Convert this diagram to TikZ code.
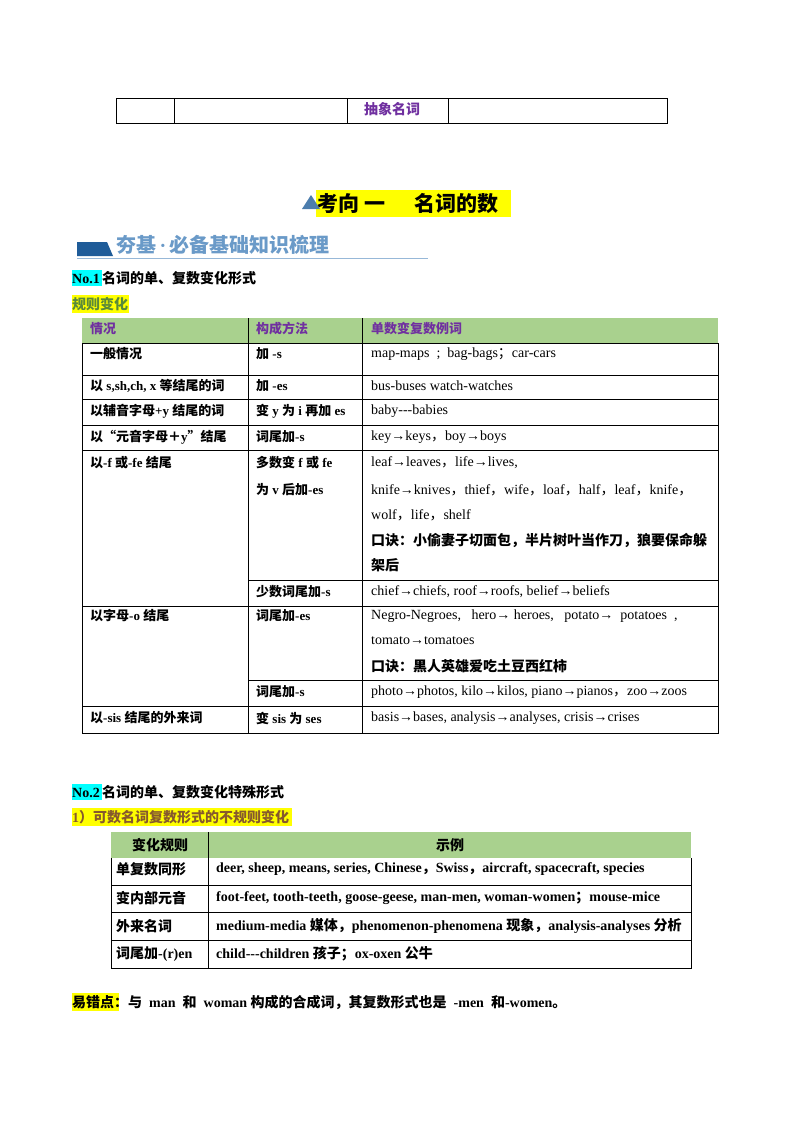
\documentclass[tikz,border=0pt]{standalone}
\usepackage{fontspec}
\setmainfont{Liberation Serif}
\newfontfamily\cjk{Noto Sans CJK SC}
\XeTeXinterchartokenstate=1
\newXeTeXintercharclass\CJKcls
\makeatletter
\def\setcjkrange#1#2{\count@=#1\relax\loop\XeTeXcharclass\count@=\CJKcls\ifnum\count@<#2\advance\count@ by 1\repeat}
\makeatother
\setcjkrange{"4E00}{"9FFF}
\setcjkrange{"3000}{"303F}
\setcjkrange{"FF00}{"FFEF}
\XeTeXcharclass"201C=\CJKcls
\XeTeXcharclass"201D=\CJKcls
\XeTeXinterchartoks 0 \CJKcls={\cjk}
\XeTeXinterchartoks 4095 \CJKcls={\cjk}
\XeTeXinterchartoks \CJKcls 0={\rmfamily}
\XeTeXinterchartoks \CJKcls 4095={\rmfamily}
\definecolor{hdr}{HTML}{A9D18E}
\definecolor{purp}{HTML}{7030A0}
\definecolor{cyanhl}{HTML}{00FFFF}
\definecolor{yel}{HTML}{FFFF00}
\definecolor{bannerblue}{HTML}{1F5C99}
\definecolor{bannertext}{HTML}{6A9AC8}
\definecolor{olive}{HTML}{70AD47}
\tikzset{
  cell/.style={anchor=west,inner sep=0pt,font=\fontsize{14}{16}\selectfont},
  bcell/.style={cell,font=\fontsize{13}{15}\selectfont\bfseries},
  ccell/.style={cell,font=\fontsize{14}{16}\selectfont\bfseries},
  hcell/.style={bcell,text=purp},
  grid/.style={line width=0.8pt,black}
}
\begin{document}
\begin{tikzpicture}[x=1pt,y=-1pt]
\path[use as bounding box,fill=white] (0,0) rectangle (800,1132);
% top table
\draw[grid] (116,98) rectangle (667,123);
\foreach \x in {174,347,448} \draw[grid] (\x,98) -- (\x,123);
\node[hcell,anchor=center,font=\fontsize{14}{16}\selectfont\bfseries] (abs) at (392,109) {抽象名词};
% title
\fill[yel] (316,190) rectangle (511,217);
\fill[bannerblue!80] (302,209) -- (311,195) -- (320,209) -- cycle;
\node[inner sep=0pt,font=\fontsize{21}{24}\selectfont\bfseries,anchor=west] (title) at (317,204) {考向 一\hspace{1.4em}名词的数};
% banner
\fill[bannerblue] (77,242) -- (107,242) -- (113,256) -- (77,256) -- cycle;
\node[inner sep=0pt,font=\fontsize{20}{22}\selectfont\bfseries,text=bannertext,anchor=west] (banner) at (116,245) {夯基\,·\,必备基础知识梳理};
\draw[bannertext!70,line width=0.8pt] (77,258) -- (428,258);
% No.1
\fill[cyanhl] (72,270) rectangle (102,286);
\node[ccell] (no1) at (72,278) {No.1\,名词的单、复数变化形式};
\fill[yel] (72,295) rectangle (129,313);
\node[ccell,text=olive!80!black] (gz) at (72,304) {规则变化};
% main table
\fill[hdr] (82,318) rectangle (718,343);
\draw[grid] (82,343) -- (82,733) -- (718,733) -- (718,343);
\draw[grid] (248,318) -- (248,733);
\draw[grid] (362,318) -- (362,733);
\foreach \y in {343,375,399,425,450,606,706} \draw[grid] (82,\y) -- (718,\y);
\foreach \y in {580,680} \draw[grid] (248,\y) -- (718,\y);
\node[hcell] (h1) at (90,329) {情况};
\node[hcell] (h2) at (256,329) {构成方法};
\node[hcell] (h3) at (371,329) {单数变复数例词};
\node[bcell] (a1) at (90,354) {一般情况};
\node[bcell] (b1) at (256,354) {加 -s};
\node[cell] (c1) at (371,354) {map-maps \ ; \ bag-bags；car-cars};
\node[bcell] (a2) at (90,386) {以 s,sh,ch, x 等结尾的词};
\node[bcell] (b2) at (256,386) {加 -es};
\node[cell] (c2) at (371,386) {bus-buses watch-watches};
\node[bcell] (a3) at (90,411) {以辅音字母+y 结尾的词};
\node[bcell] (b3) at (256,411) {变 y 为 i 再加 es};
\node[cell] (c3) at (371,411) {baby-{}-{}-babies};
\node[bcell] (a4) at (90,437) {以“元音字母＋y”结尾};
\node[bcell] (b4) at (256,437) {词尾加-s};
\node[cell] (c4) at (371,437) {key→keys，boy→boys};
\node[bcell] (a5) at (90,463) {以-f 或-fe 结尾};
\node[bcell] (b5) at (256,463) {多数变 f 或 fe};
\node[bcell] (b5b) at (256,490) {为 v 后加-es};
\node[cell] (c5) at (371,463) {leaf→leaves，life→lives,};
\node[cell] (c5b) at (371,490) {knife→knives，thief，wife，loaf，half，leaf，knife，};
\node[cell] (c5c) at (371,515) {wolf，life，shelf};
\node[ccell] (c5d) at (371,540) {口诀：小偷妻子切面包，半片树叶当作刀，狼要保命躲};
\node[ccell] (c5e) at (371,565) {架后};
\node[bcell] (b6) at (256,592) {少数词尾加-s};
\node[cell] (c6) at (371,592) {chief→chiefs,\ roof→roofs,\ belief→beliefs};
\node[bcell] (a7) at (90,616) {以字母-o 结尾};
\node[bcell] (b7) at (256,616) {词尾加-es};
\node[cell] (c7) at (371,616) {Negro-Negroes,\ \ \ hero→ heroes,\ \ \ potato→\ \ potatoes \ ,};
\node[cell] (c7b) at (371,641) {tomato→tomatoes};
\node[ccell] (c7c) at (371,666) {口诀：黑人英雄爱吃土豆西红柿};
\node[bcell] (b8) at (256,692) {词尾加-s};
\node[cell] (c8) at (371,692) {photo→photos,\ kilo→kilos,\ piano→pianos，zoo→zoos};
\node[bcell] (a9) at (90,718) {以-sis 结尾的外来词};
\node[bcell] (b9) at (256,718) {变 sis 为 ses};
\node[cell] (c9) at (371,718) {basis→bases,\ analysis→analyses,\ crisis→crises};
% No.2
\fill[cyanhl] (72,784) rectangle (102,800);
\node[ccell] (no2) at (72,792) {No.2\,名词的单、复数变化特殊形式};
\fill[yel] (72,808) rectangle (292,826);
\node[ccell,text=brown!70!black] (irr) at (72,817) {1）可数名词复数形式的不规则变化};
% table 2
\fill[hdr] (111,832) rectangle (691,858);
\draw[grid] (111,858) -- (111,968) -- (691,968) -- (691,858);
\draw[grid] (208,832) -- (208,968);
\foreach \y in {885,912,940} \draw[grid] (111,\y) -- (691,\y);
\node[ccell,anchor=center] (t1) at (160,845) {变化规则};
\node[ccell,anchor=center] (t2) at (450,845) {示例};
\node[ccell] (r1a) at (116,869) {单复数同形};
\node[ccell] (r1b) at (216,869) {deer,\ sheep,\ means,\ series,\ Chinese，Swiss，aircraft,\ spacecraft,\ species};
\node[ccell] (r2a) at (116,898) {变内部元音};
\node[ccell] (r2b) at (216,898) {foot-feet,\ tooth-teeth,\ goose-geese,\ man-men,\ woman-women；mouse-mice};
\node[ccell] (r3a) at (116,926) {外来名词};
\node[ccell] (r3b) at (216,926) {medium-media 媒体，phenomenon-phenomena 现象，analysis-analyses 分析};
\node[ccell] (r4a) at (116,954) {词尾加-(r)en};
\node[ccell] (r4b) at (216,954) {child-{}-{}-children 孩子；ox-oxen 公牛};
% note
\fill[yel] (72,993) rectangle (119,1011);
\node[ccell] (note) at (72,1002) {易错点：与\ \ man\ \ 和\ \ woman 构成的合成词，其复数形式也是\ \ -men\ \ 和-women。};
\end{tikzpicture}
\end{document}
